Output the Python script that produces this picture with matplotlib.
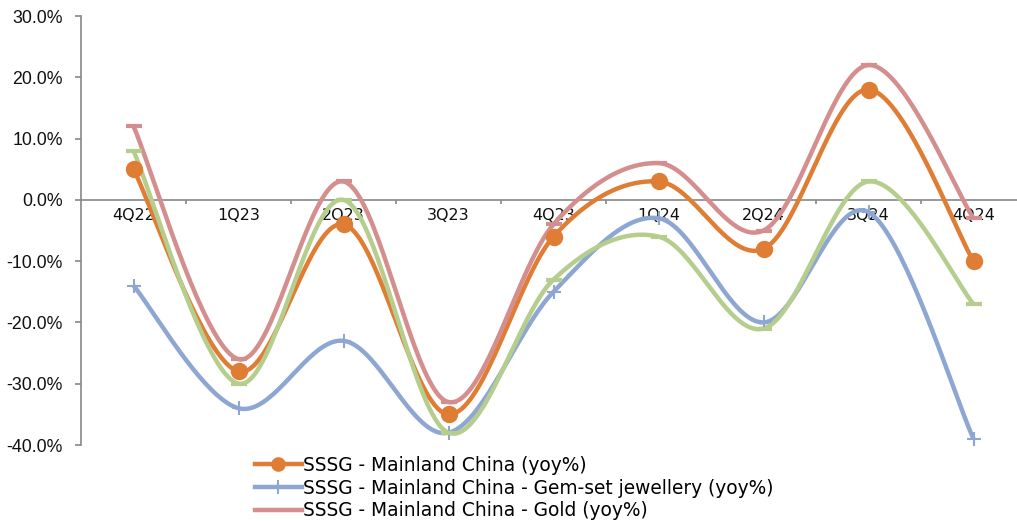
import matplotlib
matplotlib.use('Agg')
import matplotlib.pyplot as plt
import numpy as np
from matplotlib.ticker import FuncFormatter, FixedLocator

quarters = ['4Q22', '1Q23', '2Q23', '3Q23', '4Q23', '1Q24', '2Q24', '3Q24', '4Q24']
sssg_total = [5, -28, -4, -35, -6, 3, -8, 18, -10]
sssg_gemset = [-14, -34, -23, -38, -15, -3, -20, -2, -39]
sssg_gold = [12, -26, 3, -33, -4, 6, -5, 22, -3]
sssg_other = [8, -30, 0, -38, -13, -6, -21, 3, -17]

labels = ['SSSG - Mainland China (yoy%)',
          'SSSG - Mainland China - Gem-set jewellery (yoy%)',
          'SSSG - Mainland China - Gold (yoy%)',
          None]

ORANGE = '#E07D35'
BLUE = '#8DA7D2'
PINK = '#D48E8E'
GREEN = '#B5CD8D'


def smooth(xs, ys, n=40):
    # Catmull-Rom style bezier, like spreadsheet "smoothed line"
    xs = np.asarray(xs, float)
    ys = np.asarray(ys, float)
    px = np.concatenate([[xs[0]], xs, [xs[-1]]])
    py = np.concatenate([[ys[0]], ys, [ys[-1]]])
    outx, outy = [], []
    t = np.linspace(0, 1, n)
    for i in range(1, len(px) - 2):
        p0 = np.array([px[i - 1], py[i - 1]])
        p1 = np.array([px[i], py[i]])
        p2 = np.array([px[i + 1], py[i + 1]])
        p3 = np.array([px[i + 2], py[i + 2]])
        b1 = p1 + (p2 - p0) / 6
        b2 = p2 - (p3 - p1) / 6
        seg = ((1 - t)[:, None] ** 3 * p1 + 3 * ((1 - t) ** 2 * t)[:, None] * b1
               + 3 * ((1 - t) * t ** 2)[:, None] * b2 + (t ** 3)[:, None] * p2)
        outx.extend(seg[:, 0])
        outy.extend(seg[:, 1])
    return np.array(outx), np.array(outy)


fig = plt.figure(figsize=(10.17, 5.21), dpi=100)
ax = fig.add_axes([81 / 1017, 76 / 521, 945 / 1017, 429 / 521])

x = np.arange(len(quarters))
series = [
    (sssg_total, ORANGE, 'o', 9.5, labels[0]),
    (sssg_gemset, BLUE, '+', 10, labels[1]),
    (sssg_gold, PINK, '_', 12, labels[2]),
    (sssg_other, GREEN, '_', 12, labels[3]),
]

handles = []
for vals, col, mk, ms, lab in series:
    sx, sy = smooth(x, vals)
    ax.plot(sx, sy, color=col, linewidth=3.2, solid_capstyle='butt', zorder=3)
    ax.plot(x, vals, linestyle='none', marker=mk, markersize=ms, color=col,
            markeredgewidth=1.5 if mk == '+' else 3, zorder=4)
    if lab:
        h, = ax.plot([], [], color=col, linewidth=3.2, marker=mk if mk != '_' else None,
                     markersize=ms, markeredgewidth=1.5 if mk == '+' else 1)
        handles.append((h, lab))

ax.set_xlim(-0.5, 8.5)
ax.set_ylim(-40, 30)
ax.set_yticks(np.arange(-40, 31, 10))
ax.yaxis.set_major_formatter(FuncFormatter(lambda v, p: f'{v:.1f}%'))

ax.spines['top'].set_visible(False)
ax.spines['right'].set_visible(False)
ax.spines['bottom'].set_position(('data', 0))
for s in ('left', 'bottom'):
    ax.spines[s].set_color('#888888')
    ax.spines[s].set_linewidth(1.2)

ax.xaxis.set_major_locator(FixedLocator(np.arange(0.5, 8.5, 1)))
ax.xaxis.set_minor_locator(FixedLocator(x))
ax.set_xticklabels([], minor=False)
ax.set_xticklabels(quarters, minor=True)
ax.tick_params(axis='x', which='major', direction='out', length=3, color='#888888', width=1.2)
ax.tick_params(axis='x', which='minor', length=0, pad=6, labelsize=11.5, labelcolor='#111111')
ax.tick_params(axis='y', direction='out', length=4.5, color='#888888', width=1.2,
               labelsize=12.8, labelcolor='#111111', pad=8.5)
for t in ax.get_xticklabels(minor=True):
    t.set_fontfamily('DejaVu Sans')
for t in ax.get_yticklabels():
    t.set_fontfamily('Liberation Sans')

leg = fig.legend([h for h, _ in handles], [l for _, l in handles],
                 loc='upper left', bbox_to_anchor=(255 / 1017, 1 - 456 / 521),
                 frameon=False, handlelength=2.5, handletextpad=0.1,
                 labelspacing=0.19, borderpad=0, borderaxespad=0,
                 prop={'family': 'DejaVu Sans', 'size': 13.4})

fig.savefig('out.png', dpi=100)
